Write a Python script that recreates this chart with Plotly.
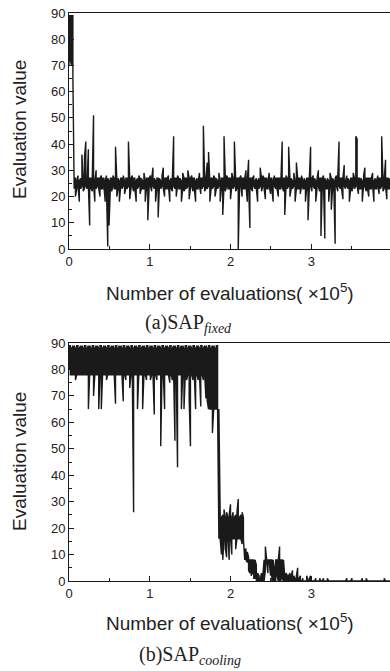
import plotly.graph_objects as go

# ---------------- data: evaluation value vs. number of evaluations (x in units of 1e5) -------------
# Each bin covers BIN_STEP evaluations; the dense raw trace is stored as the
# minimum (LO) and maximum (HI) evaluation value reached inside each bin.
BIN_STEP = 0.016

# (a) SAP_fixed
A_HI = [
    89, 89, 89, 89,
    27, 27, 26, 28, 26, 27, 36, 27, 35, 41,
    26, 38, 27, 27, 27, 51, 26, 30, 27, 27,
    27, 28, 27, 27, 26, 28, 27, 26, 27, 27,
    28, 27, 39, 27, 27, 26, 27, 27, 28, 26,
    27, 27, 41, 27, 27, 28, 27, 27, 26, 27,
    28, 27, 27, 26, 29, 26, 27, 27, 27, 28,
    27, 31, 27, 26, 27, 27, 27, 26, 28, 31,
    27, 27, 27, 28, 26, 27, 27, 43, 27, 27,
    28, 27, 27, 26, 29, 27, 27, 27, 30, 27,
    27, 28, 27, 27, 26, 27, 26, 29, 27, 27,
    47, 27, 27, 33, 37, 26, 27, 27, 28, 27,
    27, 26, 29, 26, 27, 27, 43, 27, 28, 27,
    27, 27, 29, 27, 41, 27, 27, 27, 27, 28,
    27, 27, 27, 30, 26, 34, 27, 27, 27, 28,
    26, 27, 26, 27, 31, 27, 28, 27, 27, 27,
    26, 29, 27, 27, 26, 28, 27, 27, 27, 27,
    26, 41, 27, 27, 28, 27, 39, 27, 27, 26,
    29, 26, 33, 27, 27, 27, 28, 26, 27, 26,
    27, 27, 27, 39, 27, 28, 27, 26, 27, 30,
    27, 27, 27, 28, 27, 26, 27, 26, 29, 27,
    27, 26, 27, 28, 27, 41, 27, 27, 27, 32,
    26, 28, 27, 26, 27, 27, 29, 27, 43, 42,
    27, 27, 27, 26, 28, 31, 27, 27, 27, 27,
    27, 29, 26, 27, 26, 28, 27, 27, 43, 27,
    27, 34, 27, 27, 27,
]
A_LO = [
    70, 72, 70, 66,
    23, 20, 23, 24, 18, 23, 24, 22, 23, 24,
    23, 24, 9, 23, 22, 24, 18, 23, 24, 23,
    20, 23, 23, 24, 18, 23, 1, 9, 23, 22,
    24, 23, 23, 20, 23, 18, 24, 23, 24, 21,
    23, 23, 24, 19, 23, 24, 22, 23, 18, 23,
    24, 21, 23, 23, 23, 18, 23, 11, 23, 24,
    22, 24, 23, 18, 23, 12, 24, 23, 24, 23,
    20, 23, 23, 24, 18, 23, 22, 24, 23, 20,
    24, 23, 23, 18, 23, 22, 23, 23, 24, 19,
    23, 24, 22, 23, 18, 23, 23, 24, 21, 23,
    24, 22, 23, 23, 24, 18, 23, 23, 24, 20,
    23, 23, 24, 18, 23, 13, 24, 22, 24, 23,
    23, 19, 24, 23, 24, 22, 23, 0, 23, 24,
    20, 23, 23, 24, 18, 24, 8, 23, 22, 24,
    23, 23, 18, 23, 24, 22, 24, 23, 19, 23,
    23, 24, 21, 23, 18, 24, 23, 23, 20, 23,
    23, 24, 22, 13, 24, 23, 24, 20, 23, 23,
    24, 18, 23, 23, 23, 21, 24, 23, 23, 18,
    23, 11, 23, 24, 22, 24, 23, 18, 23, 24,
    22, 5, 23, 24, 4, 23, 23, 18, 24, 15,
    23, 23, 2, 24, 22, 24, 23, 23, 19, 24,
    23, 24, 23, 18, 23, 22, 24, 23, 24, 24,
    21, 23, 23, 18, 24, 24, 22, 23, 20, 23,
    23, 24, 18, 23, 23, 24, 21, 23, 24, 22,
    23, 24, 19, 23, 23,
]

# (b) SAP_cooling
B_HI = [
    89, 89, 88, 89, 89, 88, 89, 89, 88, 89,
    89, 88, 89, 89, 88, 89, 89, 88, 89, 89,
    88, 89, 89, 88, 89, 89, 88, 89, 89, 88,
    89, 89, 88, 89, 89, 88, 89, 89, 88, 89,
    89, 88, 89, 89, 88, 89, 89, 88, 89, 89,
    88, 89, 89, 88, 89, 89, 88, 89, 89, 88,
    89, 89, 88, 89, 89, 88, 89, 89, 88, 89,
    89, 88, 89, 89, 88, 89, 89, 88, 89, 89,
    88, 89, 89, 88, 89, 89, 88, 89, 89, 88,
    89, 89, 88, 89, 89, 88, 89, 89, 88, 89,
    89, 88, 89, 89, 88, 89, 89, 88, 89, 89,
    88, 89, 89, 88, 89, 89,
    65, 26, 24, 25, 27, 24, 26, 24, 25, 29,
    24, 26, 24, 25, 26, 31, 24, 25, 26, 24,
    12, 12, 11, 9, 8, 8, 8, 8, 8, 6,
    3, 2, 1, 3, 2,
    8, 13, 8, 8, 8, 8, 8, 8,
    5, 8, 8, 8, 13, 8, 8, 8,
    2, 3, 2, 2, 3, 2, 4, 2, 1, 2, 5, 1, 2,
    0, 1, 0, 0, 2, 0, 1, 2, 0, 0,
    0, 1, 0, 0, 1, 0, 0, 1, 0, 0,
    1, 0, 0, 0, 0, 0, 0, 0, 0, 0,
    0, 0, 0, 0, 0, 1, 0, 0, 0, 1,
    0, 0, 0, 0, 0, 0, 0, 1, 0, 0,
    1, 0, 0, 0, 0, 0, 0, 0, 0, 0,
    0, 0, 0, 0, 1, 0, 0, 0, 0, 0,
]
B_LO = [
    80, 78, 78, 78, 78, 76, 78, 78, 78, 78,
    78, 78, 78, 78, 78, 65, 78, 78, 78, 70,
    78, 78, 78, 65, 78, 65, 78, 78, 78, 76,
    78, 78, 78, 78, 78, 78, 67, 78, 78, 78,
    78, 78, 68, 78, 76, 78, 78, 73, 78, 78,
    26, 78, 78, 65, 78, 78, 78, 65, 78, 78,
    76, 78, 78, 76, 78, 78, 63, 78, 76, 78,
    78, 51, 78, 78, 65, 78, 78, 78, 75, 78,
    76, 78, 53, 78, 43, 78, 78, 65, 78, 65,
    78, 76, 78, 69, 51, 78, 76, 78, 65, 78,
    76, 78, 66, 78, 76, 78, 69, 68, 65, 65,
    65, 56, 65, 65, 65, 65,
    16, 16, 10, 8, 16, 12, 9, 16, 8, 16,
    10, 16, 16, 12, 16, 16, 16, 16, 14, 16,
    8, 8, 7, 4, 3, 2, 3, 1, 1, 0,
    0, 0, 0, 0, 0,
    0, 4, 7, 3, 7, 2, 0, 0,
    0, 0, 2, 0, 0, 0, 1, 0,
    0, 0, 0, 0, 0, 0, 0, 0, 0, 0, 0, 0, 0,
    0, 0, 0, 0, 0, 0, 0, 0, 0, 0,
    0, 0, 0, 0, 0, 0, 0, 0, 0, 0,
    0, 0, 0, 0, 0, 0, 0, 0, 0, 0,
    0, 0, 0, 0, 0, 0, 0, 0, 0, 0,
    0, 0, 0, 0, 0, 0, 0, 0, 0, 0,
    0, 0, 0, 0, 0, 0, 0, 0, 0, 0,
    0, 0, 0, 0, 0, 0, 0, 0, 0, 0,
]

X_TICKS = [0, 1, 2, 3, 4]
Y_TICKS = [0, 10, 20, 30, 40, 50, 60, 70, 80, 90]
X_TITLE = "Number of evaluations( ×10<sup>5</sup>)"
Y_TITLE = "Evaluation value"
CAPTION_A = "(a)SAP<sub><i>fixed</i></sub>"
CAPTION_B = "(b)SAP<sub><i>cooling</i></sub>"


def dense_path(lo, hi, step):
    """Redraw each bin as a vertical stroke from its min to its max (like the raw dense trace)."""
    xs, ys = [], []
    for i, (l, h) in enumerate(zip(lo, hi)):
        x = i * step
        xs += [x, x]
        ys += [l, h] if i % 2 == 0 else [h, l]
    return xs, ys


W, H = 390, 671
LINE = "#1a1a1a"
SANS = "Liberation Sans, Arial, sans-serif"
SERIF = "Liberation Serif, Times New Roman, serif"

ax_x, ax_y = dense_path(A_LO, A_HI, BIN_STEP)
bx_x, bx_y = dense_path(B_LO, B_HI, BIN_STEP)

fig = go.Figure()
fig.add_trace(go.Scatter(x=ax_x, y=ax_y, mode="lines", line=dict(color=LINE, width=1.4, simplify=False),
                         xaxis="x", yaxis="y", showlegend=False, hoverinfo="skip"))
fig.add_trace(go.Scatter(x=bx_x, y=bx_y, mode="lines", line=dict(color=LINE, width=1.4, simplify=False),
                         xaxis="x2", yaxis="y2", showlegend=False, hoverinfo="skip"))

x_left = 69 / W
x_max = (W - 69) / 80.75


def xax(anchor):
    return dict(domain=[x_left, 1], range=[0, x_max], anchor=anchor, automargin=False,
                tickmode="array", tickvals=X_TICKS, ticktext=[str(t) for t in X_TICKS],
                ticks="inside", ticklen=5, tickwidth=1, tickcolor=LINE,
                minor=dict(dtick=0.5, ticks="inside", ticklen=3, tickwidth=1, tickcolor=LINE, showgrid=False),
                showline=True, linecolor=LINE, linewidth=1, mirror=True,
                showgrid=False, zeroline=False,
                tickfont=dict(family=SANS, size=13, color="#222"))


def yax(anchor, top_px, bot_px):
    return dict(domain=[1 - bot_px / H, 1 - top_px / H], range=[0, 90], anchor=anchor, automargin=False,
                tickmode="array", tickvals=Y_TICKS, ticktext=[str(t) for t in Y_TICKS],
                ticks="inside", ticklen=5, tickwidth=1, tickcolor=LINE,
                minor=dict(dtick=5, ticks="inside", ticklen=3, tickwidth=1, tickcolor=LINE, showgrid=False),
                showline=True, linecolor=LINE, linewidth=1, mirror=True,
                showgrid=False, zeroline=False,
                tickfont=dict(family=SANS, size=13, color="#222"))


fig.update_layout(
    width=W, height=H, autosize=False,
    margin=dict(l=0, r=0, t=0, b=0, pad=0),
    paper_bgcolor="white", plot_bgcolor="white",
    xaxis=xax("y"), yaxis=yax("x", 13, 249),
    xaxis2=xax("y2"), yaxis2=yax("x2", 343, 581),
)


def ann(text, xp, yp, size, family, angle=0, xanchor="center"):
    fig.add_annotation(text=text, xref="paper", yref="paper", x=xp / W, y=1 - yp / H,
                       xanchor=xanchor, yanchor="middle", showarrow=False, textangle=angle,
                       font=dict(family=family, size=size, color="#222"))


# tick label "4" sits on the right edge of the page (only partly visible, as in the source)
ann("4", 393, 257, 13, SANS)
ann("4", 393, 589, 13, SANS)

ann(X_TITLE, 230, 292, 19, SANS)
ann(X_TITLE, 230, 622, 19, SANS)
ann(Y_TITLE, 19, 130, 19, SANS, angle=-90)
ann(Y_TITLE, 19, 462, 19, SANS, angle=-90)
ann(CAPTION_A, 143, 323, 20, SERIF, xanchor="left")
ann(CAPTION_B, 137, 655, 20, SERIF, xanchor="left")

fig.write_html("out.html", config={"displayModeBar": False},
               post_script="document.body.style.margin='0';document.body.style.overflow='hidden';")
